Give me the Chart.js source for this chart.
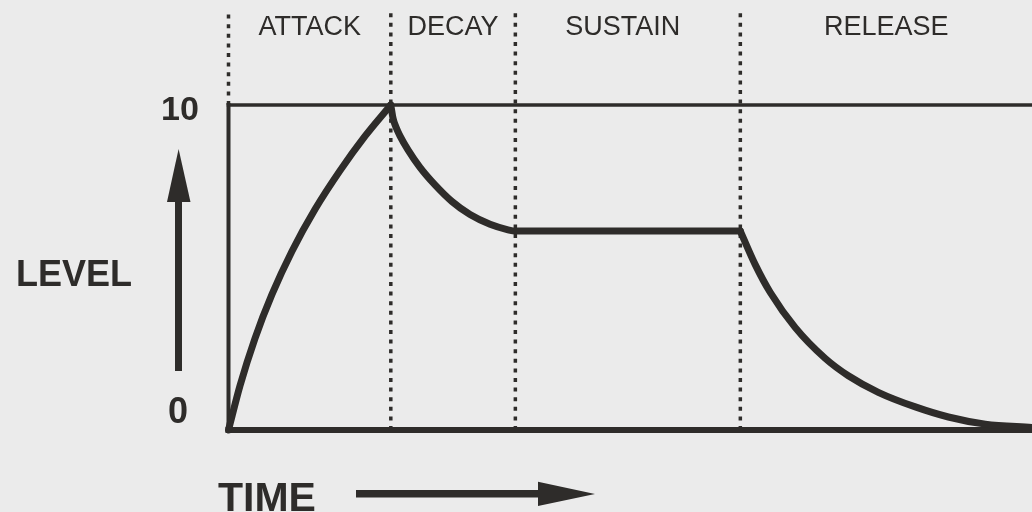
<!DOCTYPE html>
<html>
<head>
<meta charset="utf-8">
<script src="https://cdn.jsdelivr.net/npm/chart.js@4"></script>
<style>
  html, body { margin: 0; padding: 0; background: #ebebeb; }
  canvas { display: block; }
</style>
</head>
<body>
<canvas id="c" width="1032" height="512"></canvas>
<script>
// ---- data ----
const phaseLabels = ['ATTACK', 'DECAY', 'SUSTAIN', 'RELEASE'];
const phaseBounds = [0, 20.2, 35.7, 63.7, 100];

const attackTime  = [0, 1.43, 3.30, 5.41, 7.90, 10.77, 13.88, 16.99, 20.2];
const attackLevel = [0, 1.36, 2.82, 4.17, 5.50, 6.79, 7.98, 9.04, 10];

const decayTime  = [20.2, 20.47, 20.84, 21.34, 22.34, 23.83, 25.70, 27.81, 30.06, 32.55, 34.79, 35.7];
const decayLevel = [10, 9.60, 9.32, 9.05, 8.62, 8.08, 7.54, 7.03, 6.63, 6.33, 6.16, 6.12];

const sustainTime  = [35.7, 63.7];
const sustainLevel = [6.12, 6.12];

const releaseTime  = [63.7, 65.57, 67.43, 70.54, 74.28, 77.14, 80.87, 85.48, 89.59, 94.19, 100];
const releaseLevel = [6.12, 5.08, 4.23, 3.15, 2.20, 1.67, 1.16, 0.71, 0.40, 0.18, 0.08];

const levelTickValues = [0, 10];
const levelTickLabels = ['0', '10'];
const levelTitle = 'LEVEL';
const timeTitle = 'TIME';
const guideTop = 13.0;       // dotted guides reach above the top level
const firstGuideTop = 12.8;

// ---- helpers ----
const ink = '#2e2c2a';
const FONT = '"Liberation Sans", Arial, Helvetica, sans-serif';
const pts = (xs, ys) => xs.map((x, i) => ({ x: x, y: ys[i] }));

function envelope(data) {
  return {
    data: data, borderColor: ink, borderWidth: 7, pointRadius: 0, fill: false,
    cubicInterpolationMode: 'monotone', borderCapStyle: 'round', borderJoinStyle: 'round',
    clip: false, order: 0
  };
}
function frame(data, w) {
  return {
    data: data, borderColor: ink, borderWidth: w, pointRadius: 0, fill: false, tension: 0,
    borderCapStyle: 'square', clip: false, order: 2
  };
}
function guide(data) {
  return {
    data: data, borderColor: ink, borderWidth: 3.5, borderDash: [4, 5.6], pointRadius: 0,
    fill: false, tension: 0, borderCapStyle: 'butt', clip: false, order: 3
  };
}

const datasets = [
  envelope(pts(attackTime, attackLevel)),
  envelope(pts(decayTime.concat(sustainTime.slice(1)), decayLevel.concat(sustainLevel.slice(1)))),
  envelope(pts(releaseTime, releaseLevel)),
  frame([{ x: 0, y: levelTickValues[1] }, { x: 100, y: levelTickValues[1] }], 3.5),
  frame([{ x: 0, y: levelTickValues[0] }, { x: 0, y: levelTickValues[1] }], 4),
  frame([{ x: 0, y: levelTickValues[0] }, { x: 100, y: levelTickValues[0] }], 6),
  guide([{ x: phaseBounds[0], y: levelTickValues[1] }, { x: phaseBounds[0], y: firstGuideTop }]),
  guide([{ x: phaseBounds[1], y: 0 }, { x: phaseBounds[1], y: guideTop }]),
  guide([{ x: phaseBounds[2], y: 0 }, { x: phaseBounds[2], y: guideTop }]),
  guide([{ x: phaseBounds[3], y: 0 }, { x: phaseBounds[3], y: guideTop }])
];

const decorPlugin = {
  id: 'decor',
  afterDraw(chart) {
    const ctx = chart.ctx;
    const xs = chart.scales.x, ys = chart.scales.y;
    const labelNudge = [0, 0, -5, 0];
    ctx.save();
    ctx.fillStyle = ink;
    ctx.textBaseline = 'alphabetic';

    // phase labels
    ctx.font = '27px ' + FONT;
    ctx.textAlign = 'center';
    phaseLabels.forEach((lbl, i) => {
      const cx = (xs.getPixelForValue(phaseBounds[i]) + xs.getPixelForValue(phaseBounds[i + 1])) / 2;
      ctx.fillText(lbl, cx + labelNudge[i], 35);
    });

    // level tick labels
    ctx.font = 'bold 34px ' + FONT;
    ctx.fillText(levelTickLabels[1], 180, ys.getPixelForValue(levelTickValues[1]) + 14.5);
    ctx.font = 'bold 36px ' + FONT;
    ctx.fillText(levelTickLabels[0], 178, ys.getPixelForValue(levelTickValues[0]) - 7);

    // axis titles
    ctx.textAlign = 'left';
    ctx.font = 'bold 36px ' + FONT;
    ctx.fillText(levelTitle, 16, 286);
    ctx.font = 'bold 41px ' + FONT;
    ctx.fillText(timeTitle, 218, 511);

    // level arrow
    ctx.fillRect(175, 198, 7, 173);
    ctx.beginPath();
    ctx.moveTo(167, 202); ctx.lineTo(190.5, 202); ctx.lineTo(178.6, 149); ctx.closePath();
    ctx.fill();

    // time arrow
    ctx.fillRect(356, 490, 186, 7.5);
    ctx.beginPath();
    ctx.moveTo(538, 481.7); ctx.lineTo(538, 506); ctx.lineTo(595, 494); ctx.closePath();
    ctx.fill();

    ctx.restore();
  }
};

new Chart(document.getElementById('c'), {
  type: 'line',
  data: { datasets: datasets },
  options: {
    responsive: false,
    devicePixelRatio: 1,
    animation: false,
    events: [],
    layout: { padding: { left: 228.5, right: 0, top: 105, bottom: 82 } },
    plugins: { legend: { display: false }, tooltip: { enabled: false } },
    scales: {
      x: { type: 'linear', min: 0, max: 100, display: false },
      y: { type: 'linear', min: 0, max: 10, display: false }
    }
  },
  plugins: [decorPlugin]
});
</script>
</body>
</html>
